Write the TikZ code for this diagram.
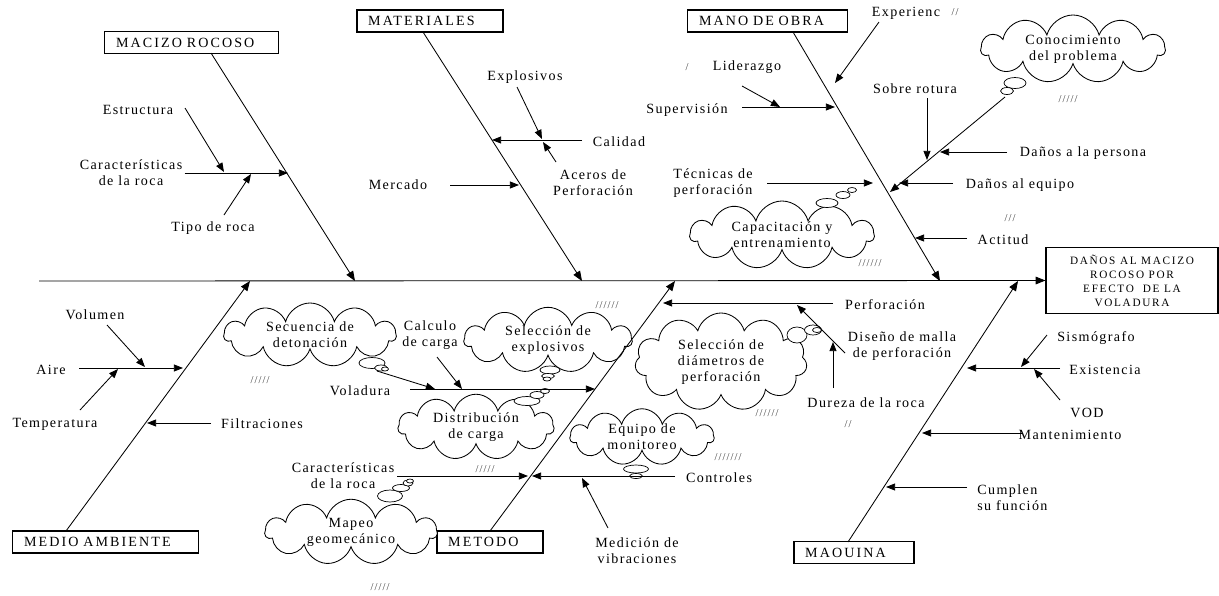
\documentclass[tikz,border=0pt]{standalone}
\usepackage{fontspec}
\setmainfont{Liberation Serif}
\newfontfamily\spacedrm[LetterSpace=10]{Liberation Serif}
\newfontfamily\spacedbox[LetterSpace=15]{Liberation Serif}
\usetikzlibrary{positioning,arrows.meta,shapes.symbols,calc}
\tikzset{
  bone/.style={line width=0.6pt,-{Triangle[length=7pt,width=5.5pt]}},
  sub/.style={line width=0.6pt,-{Triangle[length=6.5pt,width=5pt]}},
  lab/.style={font=\spacedrm\fontsize{10}{11.5}\selectfont,align=center,inner sep=0pt},
  catbox/.style={draw,line width=0.8pt,align=left,inner xsep=0.28cm,inner ysep=0pt,
    minimum height=0.55cm,font=\spacedbox\fontsize{10}{12}\selectfont},
  thought/.style={cloud,cloud puffs=11,cloud ignores aspect,draw,fill=white,
    line width=0.6pt,align=center,inner sep=0pt,font=\spacedrm\fontsize{10}{11.5}\selectfont},
  bubble/.style={draw,fill=white,line width=0.5pt},
  marks/.style={font=\spacedrm\fontsize{7.5}{8}\selectfont,text=black!75,inner sep=0pt},
}
\newcommand\bub[4]{\draw[bubble] (#1,#2) ellipse [x radius=#3*0.025cm, y radius=#4*0.025cm];}

\begin{document}
\begin{tikzpicture}[x=0.025cm,y=-0.025cm]
  \useasboundingbox (0,0) rectangle (1219,595);

  % effect and category boxes
  \node[draw,line width=0.8pt,minimum width=4.3cm,minimum height=1.63cm,align=center,
        inner sep=0pt,font=\spacedbox\fontsize{8}{10}\selectfont] (effect) at (1132,280.5)
        {DAÑOS AL MACIZO\\ROCOSO POR\\EFECTO \ DE LA\\VOLADURA};
  \node[catbox,text width=3.77cm] (mr)  at (191.5,42.5) {MACIZO ROCOSO};
  \node[catbox,text width=3.09cm] (mat) at (430,21)     {MATERIALES};
  \node[catbox,text width=3.42cm] (mo)  at (767.5,21)   {MANO DE OBRA};
  \node[catbox,text width=4.07cm] (med) at (105.5,542)  {MEDIO AMBIENTE};
  \node[catbox,text width=2.09cm] (met) at (490,542)    {METODO};
  \node[catbox,text width=2.44cm] (maq) at (854,552.5)  {MAOUINA};

  % clouds
  \node[thought,minimum width=4.6cm,minimum height=1.7cm]  (conoc)   at (1073,49)  {Conocimiento\\del problema};
  \node[thought,minimum width=4.6cm,minimum height=1.7cm]  (capac)   at (782,235)  {Capacitación y\\entrenamiento};
  \node[thought,minimum width=4.3cm,minimum height=1.6cm]  (secu)    at (310,335)  {Secuencia de\\detonación};
  \node[thought,minimum width=4.2cm,minimum height=1.35cm] (selex)   at (548,340)  {Selección de\\explosivos};
  \node[thought,minimum width=3.9cm,minimum height=1.3cm]  (distr)   at (476,427)  {Distribución\\de carga};
  \node[thought,minimum width=4.3cm,minimum height=1.5cm]  (mapeo)   at (351,532)  {Mapeo\\geomecánico};
  \node[thought,minimum width=3.6cm,minimum height=1.25cm] (equipo)  at (642,437)  {Equipo de\\monitoreo};
  \node[thought,minimum width=4.3cm,minimum height=2.45cm] (seldiam) at (721,362)  {Selección de\\diámetros de\\perforación};
  \bub{1015}{83}{11}{5.5} \bub{1007}{91}{6.5}{3.5}
  \bub{827}{203}{11}{4.5} \bub{843}{195}{7}{3.5} \bub{852}{190}{4.5}{2.5}
  \bub{372}{363}{13}{5.5} \bub{381}{368}{6.5}{3} \bub{385}{369}{3.5}{2}
  \bub{550}{370}{10}{4} \bub{548}{376}{6.5}{2.5} \bub{547}{379}{4}{2}
  \bub{527}{401}{13}{4.5} \bub{537}{395}{7}{3.5} \bub{545}{391}{4.5}{2.5}
  \bub{390}{496}{12.5}{6} \bub{401}{488}{8.5}{3.5} \bub{408}{483}{5}{3} \bub{410}{481}{3.5}{2}
  \bub{636}{469}{12.5}{4} \bub{636}{476}{6.5}{2.5}
  \bub{797}{335}{10}{8} \bub{813}{330}{8.5}{5} \bub{817}{330}{4.5}{2.5}

  % spine and bones
  \coordinate (tail) at (39,281);
  \draw[bone] (tail) -- (effect.west);
  \coordinate (mrtop)  at (211,53);  \coordinate (mrhead)  at (355,281);
  \coordinate (mattop) at (423,32);  \coordinate (mathead) at (582,281);
  \coordinate (motop)  at (793,32);  \coordinate (mohead)  at (940,281);
  \coordinate (medtop) at (66,531);  \coordinate (medhead) at (250,281);
  \coordinate (mettop) at (490,531); \coordinate (methead) at (675,281);
  \coordinate (maqtop) at (848,542); \coordinate (maqhead) at (1018,281);
  \foreach \b in {mr,mat,mo,med,met,maq}
    \draw[bone] (\b top) -- (\b head);

  % macizo rocoso
  \node[lab] (estr)   at (138,110) {Estructura};
  \node[lab] (carac1) at (131,173) {Características\\de la roca};
  \node[lab] (tipo)   at (213,228) {Tipo de roca};
  \coordinate (c1tip) at (288,173);
  \draw[sub] (carac1.east) ++(2,0) -- (c1tip);
  \draw[sub] (185,108) -- (224,172);
  \draw[sub] (224,215) -- (251,174);

  % materiales
  \node[lab] (explo)  at (525,77)  {Explosivos};
  \node[lab] (calid)  at (619,142) {Calidad};
  \node[lab] (aceros) at (593,183) {Aceros de\\Perforación};
  \node[lab] (merc)   at (398,185) {Mercado};
  \draw[sub] (582,140) -- (492,140);
  \draw[sub] (517,87) -- (542,139);
  \draw[sub] (556,162) -- (543,142);
  \draw[sub] (450,185) -- (519,185);

  % mano de obra
  \node[lab] (lider)  at (747,67)  {Liderazgo};
  \node[marks] (m1)   at (687,67)  {/};
  \node[lab] (superv) at (687,110) {Supervisión};
  \node[lab] (exper)  at (906,13)  {Experienc};
  \node[marks] (m2)   at (955,12)  {//};
  \node[lab] (tecn)   at (713,183) {Técnicas de\\perforación};
  \node[lab] (sobre)  at (915,89)  {Sobre rotura};
  \node[lab] (dpers)  at (1083,153) {Daños a la persona};
  \node[lab] (dequi)  at (1020,185) {Daños al equipo};
  \node[lab] (actit)  at (1003,240) {Actitud};
  \node[marks] (m3)   at (870,263) {//////};
  \node[marks] (m4)   at (1068,99) {/////};
  \node[marks] (m5)   at (1010,218) {///};
  \coordinate (conoctail) at (1005,97);
  \coordinate (conoctip)  at (890,192);
  \draw[sub] (742,107) -- (835,107);
  \draw[sub] (742,86) -- (780,107);
  \draw[sub] (879,22) -- (835,83);
  \draw[sub] (767,183) -- (873,183);
  \draw[sub] (conoctail) -- (conoctip);
  \draw[sub] (927,98) -- (927,160);
  \draw[sub] (1007,152) -- (940,152);
  \draw[sub] (953,183) -- (899,183);
  \draw[sub] (967,238) -- (915,238);

  % medio ambiente
  \node[lab] (volum)  at (95,315)  {Volumen};
  \node[lab] (aire)   at (51,370)  {Aire};
  \node[lab] (temper) at (55,424)  {Temperatura};
  \node[lab] (filtr)  at (262,424) {Filtraciones};
  \draw[sub] (79,368) -- (183,368);
  \draw[sub] (107,325) -- (145,367);
  \draw[sub] (80,410) -- (118,369);
  \draw[sub] (211,423) -- (147,423);

  % metodo
  \node[lab] (volad)  at (360,391) {Voladura};
  \node[lab] (calc)   at (430,335) {Calculo\\de carga};
  \node[lab] (carac2) at (343,476) {Características\\de la roca};
  \node[lab] (contr)  at (719,478) {Controles};
  \node[lab] (medic)  at (637,551) {Medición de\\vibraciones};
  \node[marks] (m6)  at (260,380) {/////};
  \node[marks] (m7)  at (607,305) {//////};
  \node[marks] (m8)  at (485,469) {/////};
  \node[marks] (m9)  at (380,587) {/////};
  \node[marks] (m10) at (728,457) {///////};
  \draw[sub] (410,389) -- (595,389);
  \draw[sub] (377,371) -- (435,389);
  \draw[sub] (437,357) -- (462,389);
  \draw[sub] (397,476) -- (528,476);
  \draw[sub] (675,476) -- (532,476);
  \draw[sub] (608,528) -- (582,478);

  % maquina
  \node[lab] (perfo)  at (885,305) {Perforación};
  \node[lab] (disen)  at (902,346) {Diseño de malla\\de perforación};
  \node[lab] (durez)  at (866,403) {Dureza de la roca};
  \node[lab] (sismo)  at (1096,338) {Sismógrafo};
  \node[lab] (exist)  at (1105,370) {Existencia};
  \node[lab] (vod)    at (1087,413) {VOD};
  \node[lab] (mante)  at (1070,435) {Mantenimiento};
  \node[lab,align=left,anchor=west] (cumpl) at (977,498) {Cumplen\\su función};
  \node[marks] (m11) at (848,424) {//};
  \node[marks] (m12) at (767,413) {//////};
  \draw[sub] (833,303) -- (663,303);
  \draw[sub] (845,353) -- (797,305);
  \draw[sub] (833,388) -- (833,342);
  \draw[sub] (1047,335) -- (1021,367);
  \draw[sub] (1060,368) -- (967,368);
  \draw[sub] (1060,400) -- (1034,369);
  \draw[sub] (1022,433) -- (922,433);
  \draw[sub] (967,487) -- (886,487);
\end{tikzpicture}
\end{document}
